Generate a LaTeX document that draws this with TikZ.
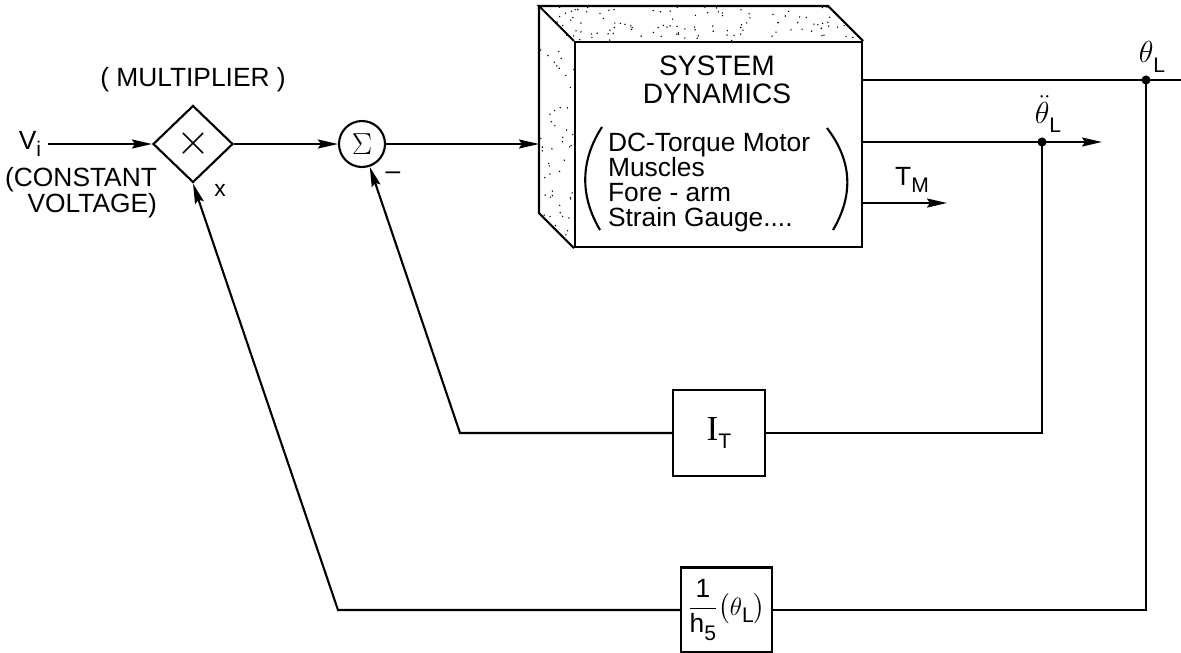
\documentclass[tikz,border=0pt]{standalone}
\usepackage{amsmath}
\usepackage{fontspec}
\setmainfont{Liberation Sans}
\newfontfamily\romanfont{Liberation Serif}
\usetikzlibrary{shapes.geometric, arrows.meta, positioning, calc}

\newcommand{\lowsub}[1]{\raisebox{-0.55ex}{\fontsize{12}{12}\selectfont #1}}

\begin{document}
\begin{tikzpicture}[
    x=0.02cm, y=-0.02cm,
    line width=1.2pt,
    font=\fontsize{15}{13}\selectfont,
    block/.style={rectangle, draw, inner sep=0pt},
    multbox/.style={diamond, draw, inner sep=0pt, minimum width=1.6cm, minimum height=1.54cm},
    sumbox/.style={circle, draw, inner sep=0pt, minimum size=0.92cm},
    arrow/.style={-{Stealth[length=4mm, width=1.8mm, inset=0.6mm]}},
    biglabel/.style={font=\fontsize{18}{18}\selectfont}
]
    \useasboundingbox (0,0) rectangle (1181,653);

    % Plant
    \node[block, minimum width=5.74cm, minimum height=4.1cm] (sys) at (718.5,144.5) {};
    \node[align=center, font=\fontsize{16}{16}\selectfont] (systitle) at (717,80) {SYSTEM\\DYNAMICS};
    \node[align=left, anchor=north west, inner sep=0pt, font=\fontsize{15}{14.2}\selectfont] (syslist) at (607,132)
        {DC-Torque Motor\\Muscles\\Fore - arm\\Strain Gauge....};
    \draw (602,127) .. controls (580,161) and (580,196) .. (600,230);
    \draw (827,128) .. controls (853,162) and (853,196) .. (833,230);

    % Box faces (stippled)
    \draw (sys.north west) -- ++(-35,-35) -- ($(sys.north east)+(-35,-35)$) -- (sys.north east);
    \draw (sys.north west) ++(-35,-35) -- ($(sys.south west)+(-35,-35)$) -- (sys.south west);
    \pgfmathsetseed{42}
    \foreach \k in {1,...,110} {
        \pgfmathsetmacro{\s}{rnd}
        \pgfmathsetmacro{\t}{rnd}
        \fill ($(sys.north west)+(287*\s-35*\t,-35*\t)$) circle (0.45pt);
    }
    \foreach \k in {1,...,50} {
        \pgfmathsetmacro{\s}{rnd}
        \pgfmathsetmacro{\t}{rnd}
        \fill ($(sys.north west)+(-35*\t,205*\s-35*\t)$) circle (0.45pt);
    }

    % Input side
    \node (vin) at (30,144) {V\lowsub{i}};
    \node[align=right, anchor=north east, inner sep=0pt] (cvlab) at (158,166) {(CONSTANT\\VOLTAGE)};
    \node[multbox] (mult) at (193,144) {};
    \node (multsign) at (mult) {\fontsize{30}{30}\selectfont$\times$};
    \node[above=0.12cm of mult] (multlab) {( MULTIPLIER )};
    \node[font=\fontsize{13}{13}\selectfont] (xlab) at (220,190) {x};
    \node[sumbox] (sum) at (362,144) {\fontsize{17}{17}\selectfont$\Sigma$};
    \node (minus) at (393,176) {--};

    % Feedback blocks
    \node[block, minimum width=1.84cm, minimum height=1.72cm] (it) at (719,433)
        {{\romanfont\fontsize{20}{20}\selectfont I}\lowsub{T}};
    \node[block, minimum width=1.82cm, minimum height=1.7cm] (hbox) at (726.5,610)
        {$\dfrac{\text{1}}{\text{h\lowsub{5}}}\bigl(\theta\text{\lowsub{L}}\bigr)$};

    % Signal points
    \coordinate (sysin) at ($(sys.west)+(-35,0)$);
    \coordinate (thdot) at (1146,80);
    \coordinate (thend) at (1181,80);
    \coordinate (acdot) at (1042,142);
    \coordinate (acend) at (1102,142);
    \coordinate (tmend) at (947,203);
    \coordinate (itcorner) at (460,433);
    \coordinate (hcorner) at (338,610);

    \node[biglabel] (thlab) at (1152,57) {$\theta$\lowsub{L}};
    \node[biglabel] (aclab) at (1048,114) {$\ddot{\theta}$\lowsub{L}};
    \node (tmlab) at (912,180) {T\lowsub{M}};

    % Connections
    \draw[arrow] (vin) -- (mult.west);
    \draw[arrow] (mult.east) -- (sum.west);
    \draw[arrow] (sum.east) -- (sum.east -| sysin);
    \draw (sys.east |- thdot) -- (thend);
    \draw[arrow] (sys.east |- acdot) -- (acend);
    \draw[arrow] (sys.east |- tmend) -- (tmend);
    \fill (thdot) circle (2.6pt);
    \fill (acdot) circle (2.6pt);
    \draw (acdot) |- (it.east);
    \draw[arrow] (it.west) -- (itcorner) -- (sum);
    \draw (thdot) |- (hbox.east);
    \draw[arrow] (hbox.west) -- (hcorner) -- (mult.south);
\end{tikzpicture}
\end{document}
